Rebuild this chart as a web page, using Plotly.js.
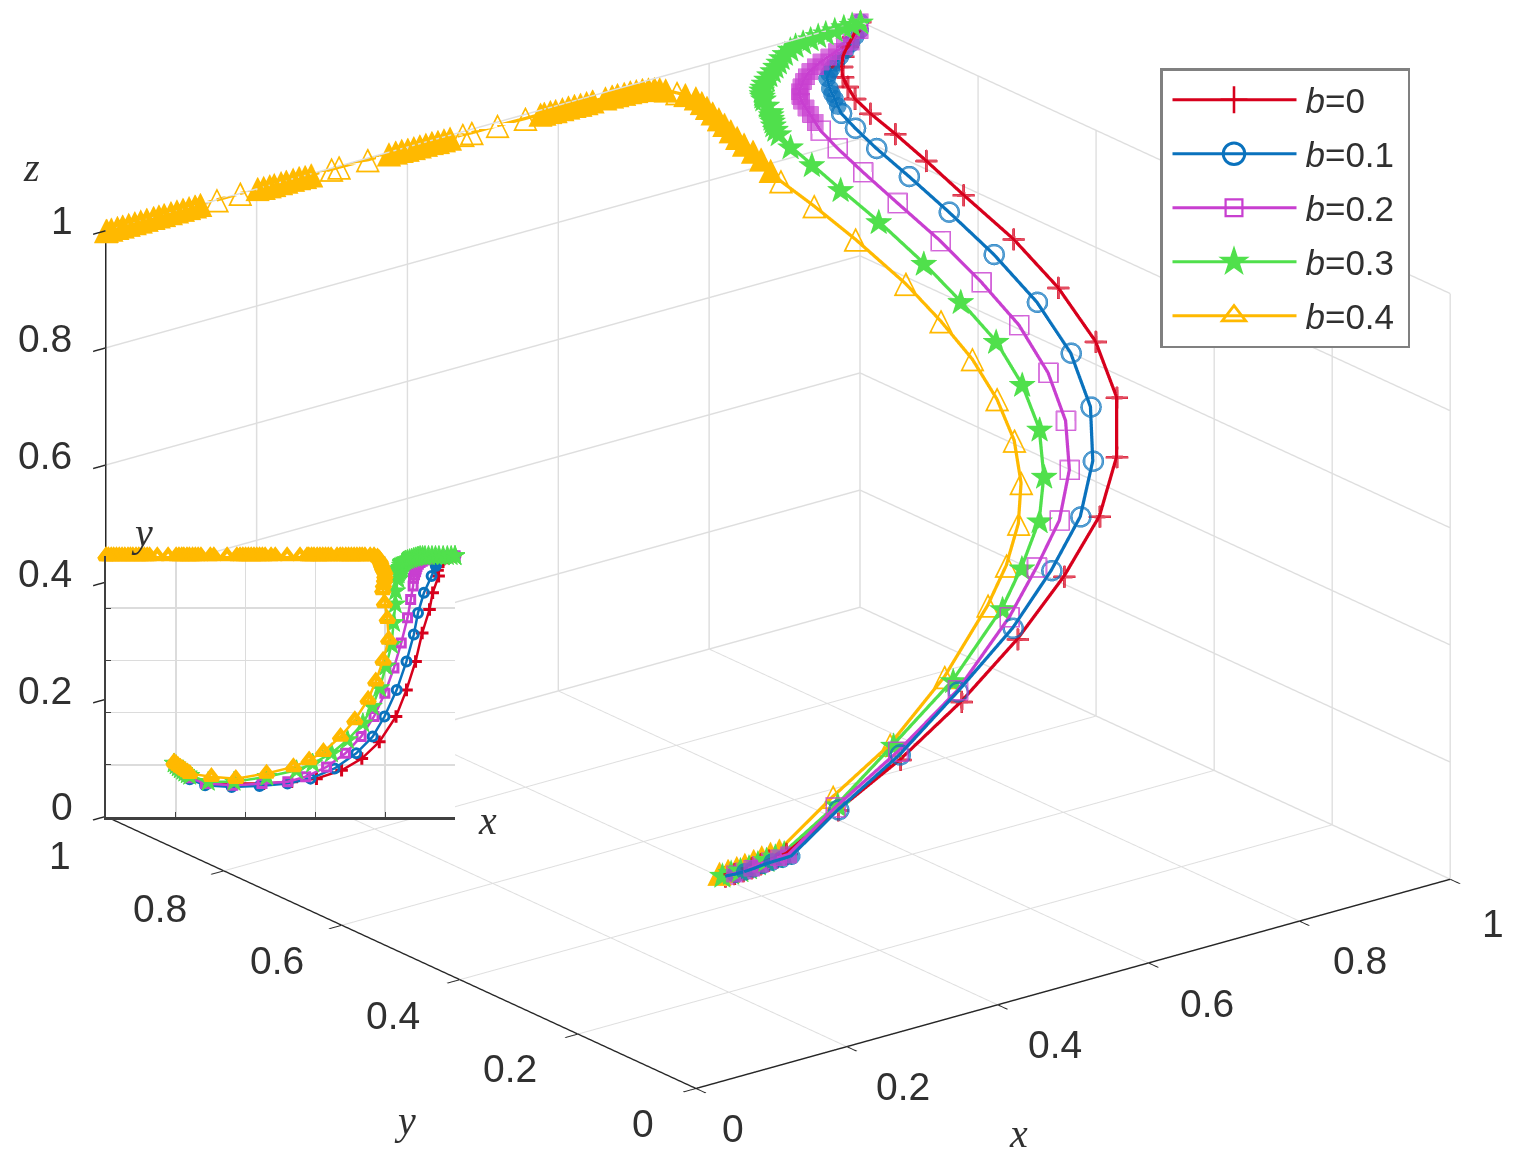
<!DOCTYPE html>
<html><head><meta charset="utf-8">
<script src="https://cdn.plot.ly/plotly-3.0.1.min.js"></script>
<style>html,body{margin:0;padding:0;background:#fff}
#main,#over{position:absolute;left:0;top:0;width:1520px;height:1165px}
#over{pointer-events:none}</style></head><body>
<div id="main"></div><div id="over"></div>
<script>
const names=['<i>b</i>=0','<i>b</i>=0.1','<i>b</i>=0.2','<i>b</i>=0.3','<i>b</i>=0.4'];
const colors=['#d7001c','#0a72bd','#c83fd0','#50e04c','#ffb900'];
const tickVals=[0,0.2,0.4,0.6,0.8,1];
const tickText=['0','0.2','0.4','0.6','0.8','1'];

const x0=[.195,.201,.207,.213,.22,.226,.233,.24,.294,.371,.452,.532,.603,.675,.733,.783,.831,.861,.887,.906,.927,.936,.953,.950,.952,.955,.960,.968,.978,.988,.996,1];
const y0=[.200,.192,.185,.178,.172,.166,.160,.154,.135,.128,.128,.135,.147,.179,.224,.288,.385,.487,.596,.705,.795,.859,.923,.945,.960,.972,.980,.988,.993,.997,1,1];
const z0=[.200,.206,.212,.218,.225,.232,.238,.244,.308,.370,.440,.515,.591,.653,.713,.767,.800,.834,.857,.875,.884,.897,.896,.912,.925,.935,.947,.958,.969,.980,.990,1];

const x1=[.195,.201,.207,.213,.22,.226,.233,.24,.284,.360,.440,.520,.586,.655,.717,.764,.798,.833,.861,.882,.894,.911,.933,.945,.946,.947,.947,.948,.950,.954,.958,.965,.972,.980,.988,.994,1,1];
const y1=[.200,.190,.182,.175,.168,.160,.152,.145,.122,.115,.119,.128,.147,.186,.244,.308,.385,.487,.596,.699,.782,.859,.923,.962,.969,.975,.980,.985,.992,.994,.995,.997,.998,.999,1,1,1,1];
const z1=[.200,.206,.212,.218,.225,.232,.238,.244,.318,.388,.465,.541,.607,.656,.702,.748,.792,.819,.840,.857,.875,.881,.878,.881,.890,.899,.905,.912,.925,.931,.937,.944,.951,.959,.967,.977,.986,1];

const x2=[.195,.201,.207,.213,.22,.226,.233,.24,.285,.363,.447,.521,.572,.632,.686,.731,.768,.799,.825,.846,.864,.873,.880,.881,.884,.887,.889,.891,.895,.900,.906,.913,.920,.927,.936,.945,.956,.967,.978,.988,1,1];
const y2=[.200,.192,.185,.178,.172,.165,.158,.150,.128,.122,.128,.135,.154,.192,.244,.308,.385,.474,.571,.667,.763,.833,.885,.915,.928,.940,.950,.960,.968,.975,.980,.985,.989,.992,.994,.996,.997,.998,.999,1,1,1];
const z2=[.200,.206,.212,.218,.225,.232,.238,.244,.319,.389,.461,.556,.614,.655,.698,.736,.769,.798,.817,.835,.849,.866,.880,.896,.903,.910,.916,.922,.925,.928,.932,.936,.940,.945,.949,.953,.957,.962,.966,.970,.985,1];

const x3=[.195,.201,.207,.213,.22,.226,.233,.24,.293,.367,.461,.546,.592,.646,.692,.736,.763,.784,.802,.818,.824,.829,.830,.837,
.837,.838,.840,.842,.843,.845,.846,.847,.848,.849,.850,.852,.855,.859,.864,.870,.876,.882,.888,.894,.900,.907,.914,.924,.934,.944,.954,.966,.978,.989,1,1];
const y3=[.205,.198,.190,.183,.177,.170,.164,.158,.135,.135,.154,.179,.205,.244,.295,.359,.423,.494,.577,.660,.744,.815,.865,.910,
.930,.937,.943,.947,.950,.953,.955,.963,.970,.973,.975,.978,.980,.983,.985,.988,.990,.993,.995,.998,1,1,1,1,1,1,1,1,1,1,1,1];
const z3=[.200,.206,.212,.218,.225,.232,.238,.244,.318,.393,.461,.542,.583,.626,.662,.697,.734,.767,.790,.811,.841,.861,.880,.887,
.900,.904,.908,.912,.915,.919,.923,.930,.937,.940,.943,.947,.950,.954,.958,.962,.966,.970,.974,.978,.982,.987,.991,.993,.995,.997,.998,.999,1,1,1,1];

const x4=[.195,.201,.207,.213,.22,.226,.233,.24,.302,.372,.460,.537,.582,.623,.672,.713,.751,.773,.794,.810,.806,.798,.793,
.795,.798,.799,.799,.796,.793,.791,.789,.787,.785,.782,.778,.768,
.757,.742,.734,.727,.719,.711,.703,.695,.687,.678,
.671,.662,.645,.637,.629,.621,.613,.605,.596,.589,
.581,.576,.556,.519,.485,.473,.456,.448,.440,.432,
.424,.416,.408,.400,.392,.384,.375,.347,.309,.299,
.272,.264,.256,.248,.239,.232,.223,.217,.209,.201,
.178,.147,.125,.118,.110,.102,.094,.086,.077,.070,
.063,.054,.046,.038,.030,.022,.015,.007,.001,0];
const y4=[.210,.203,.196,.190,.184,.178,.172,.166,.154,.147,.167,.192,.218,.250,.308,.372,.450,.520,.600,.680,.760,.820,.870,
.890,.910,.925,.940,.948,.955,.963,.970,.978,.985,.990,.995,1,
1,1,1,1,1,1,1,1,1,1,
1,1,1,1,1,1,1,1,1,1,
1,1,1,1,1,1,1,1,1,1,
1,1,1,1,1,1,1,1,1,1,
1,1,1,1,1,1,1,1,1,1,
1,1,1,1,1,1,1,1,1,1,
1,1,1,1,1,1,1,1,1,1];
const z4=[.200,.206,.212,.218,.225,.232,.238,.244,.319,.386,.461,.544,.584,.626,.651,.679,.700,.728,.748,.769,.809,.841,.862,
.870,.879,.885,.890,.899,.908,.916,.923,.930,.937,.944,.951,.958,
.965,.975,.980,.983,.985,.987,.988,.989,.989,.990,
.990,.990,.991,.991,.991,.992,.992,.992,.992,.993,
.993,.993,.993,.994,.994,.995,.995,.995,.995,.996,
.996,.996,.996,.996,.997,.997,.997,.997,.998,.998,
.998,.998,.999,.999,.999,.999,.999,.999,.999,1,
1,1,1,1,1,1,1,1,1,1,
1,1,1,1,1,1,1,1,1,1];

const xs=[x0,x1,x2,x3,x4], ys=[y0,y1,y2,y3,y4], zs=[z0,z1,z2,z3,z4];

// sparse stretch of each curve: markers there stay outlined; elsewhere they pile up into a solid band
const isSparse=[i=>i>=8,i=>i>=8&&i<24,i=>i>=8&&i<24,i=>true,
  i=>(i>=8&&i<=22)||[36,58,59,60,61,73,74,75,86,87].includes(i)];
const openSym=['cross','circle-open','square-open'], solidSym=['cross','circle','square'];
const openSize=[24,24,17], solidSize=[24,20,17];
const main=xs.map((x,i)=>{
  const t={type:'scatter3d',x:x,y:ys[i],z:zs[i],name:names[i],showlegend:false,hoverinfo:'skip',
    line:{color:colors[i],width:6.5}};
  if(i>=3){t.mode='lines+text';
    t.text=x.map((_,k)=>i==3?'★':(isSparse[4](k)?'△':'▲'));t.textposition='middle center';
    t.textfont={color:colors[i],size:i==3?36:32,family:'DejaVu Sans',weight:'bold'};}
  else{t.mode='lines+markers';t.marker={
    symbol:x.map((_,k)=>isSparse[i](k)?openSym[i]:solidSym[i]),
    size:x.map((_,k)=>isSparse[i](k)?openSize[i]:solidSize[i]),
    color:colors[i],line:{color:colors[i],width:4}};}
  return t;
});
const ax=()=>({range:[0,1],tickmode:'array',tickvals:tickVals,
  showgrid:true,gridcolor:'#dedede',gridwidth:3,showline:true,linecolor:'#262626',linewidth:3,
  ticks:'outside',ticklen:16,tickcolor:'#262626',tickwidth:3,zeroline:false,showbackground:false,showspikes:false,
  showticklabels:false,title:{text:''}});
const mainLayout={width:1520,height:1165,margin:{l:0,r:0,t:0,b:0},paper_bgcolor:'#fff',showlegend:false,
  scene:{domain:{x:[0.024,1],y:[0.047,1]},xaxis:ax(),yaxis:ax(),zaxis:ax(),
    aspectmode:'manual',aspectratio:{x:1.72,y:1.735,z:1.13},
    camera:{eye:{x:-.5725*2,y:-.738*2,z:.3576*2},center:{x:0,y:0,z:0},up:{x:0,y:0,z:1},projection:{type:'orthographic'}}}};

const sym2d=['cross-thin-open','circle-open','square-open','star','triangle-up-open'];
const over=xs.map((x,i)=>({type:'scatter',mode:'lines+markers',x:x,y:ys[i],name:names[i],legendgroup:'g'+i,cliponaxis:false,hoverinfo:'skip',
  line:{color:colors[i],width:2.5},
  marker:{symbol:sym2d[i],size:[9,9,8,15,12][i],color:colors[i],line:{color:colors[i],width:[3,3,3,1,4.5][i]}}}));
const W=1520,H=1165;
const note=(t,px,py)=>({text:t,x:px/W,y:1-py/H,xref:'paper',yref:'paper',showarrow:false,xanchor:'center',yanchor:'middle',
  font:{family:'Liberation Serif',size:40,color:'#303030'}});
const lab=(t,px,py)=>({text:t,x:px/W,y:1-py/H,xref:'paper',yref:'paper',showarrow:false,xanchor:'center',yanchor:'middle',
  font:{family:'Liberation Sans',size:39,color:'#303030'}});
const zLabelPos=[[62,806],[45,690],[45,573],[45,455],[45,338],[62,220]];
const yLabelPos=[[643,1123],[510,1068],[393,1015],[277,961],[160,908],[60,855]];
const xLabelPos=[[733,1128],[903,1086],[1055,1044],[1207,1003],[1360,961],[1493,923]];
const tickNotes=[zLabelPos,yLabelPos,xLabelPos].flatMap(p=>p.map((q,i)=>lab(tickText[i],q[0],q[1])));
const overLayout={width:W,height:H,margin:{l:0,r:0,t:0,b:0},paper_bgcolor:'rgba(0,0,0,0)',plot_bgcolor:'#fff',
  xaxis:{domain:[106/W,455/W],range:[0,1],dtick:.2,tick0:0,showgrid:true,gridcolor:'#dcdcdc',gridwidth:1.5,zeroline:false,
    showline:true,linecolor:'#404040',linewidth:2.5,ticks:'inside',ticklen:5,tickcolor:'#404040',showticklabels:false},
  yaxis:{domain:[1-817/H,1-556/H],range:[0,1],dtick:.2,tick0:0,showgrid:true,gridcolor:'#dcdcdc',gridwidth:1.5,zeroline:false,
    showline:true,linecolor:'#404040',linewidth:2.5,ticks:'inside',ticklen:5,tickcolor:'#404040',showticklabels:false},
  showlegend:true,
  legend:{x:1160/W,y:1-68/H,xanchor:'left',yanchor:'top',bgcolor:'#fff',bordercolor:'#808080',borderwidth:2.5,
    font:{family:'Liberation Sans',size:35,color:'#303030'},itemwidth:133,tracegroupgap:5.5,traceorder:'grouped',itemsizing:'constant'},
  annotations:[note('<i>z</i>',31,168),note('<i>y</i>',405,1120),note('<i>x</i>',1018,1133),note('<i>y</i>',142,532),note('<i>x</i>',487,820)].concat(tickNotes)};

const legendScale=[1.6,1.8,1.4,1.5,1.7];
Plotly.newPlot('main',main,mainLayout,{displayModeBar:false});
Plotly.newPlot('over',over,overLayout,{displayModeBar:false,staticPlot:true}).then(gd=>{
  gd.querySelectorAll('.legendpoints path.scatterpts').forEach((p,i)=>{
    p.setAttribute('transform',(p.getAttribute('transform')||'')+' scale('+legendScale[i]+')');
    p.style.strokeWidth='1.6px';
  });
  gd.querySelectorAll('.legendlines path').forEach(p=>{p.style.strokeWidth='3px';p.setAttribute('d','M10,0h124');});
  const bg=gd.querySelector('.legend rect.bg');
  if(bg){bg.setAttribute('width',(+bg.getAttribute('width')+8));}
});
</script></body></html>
